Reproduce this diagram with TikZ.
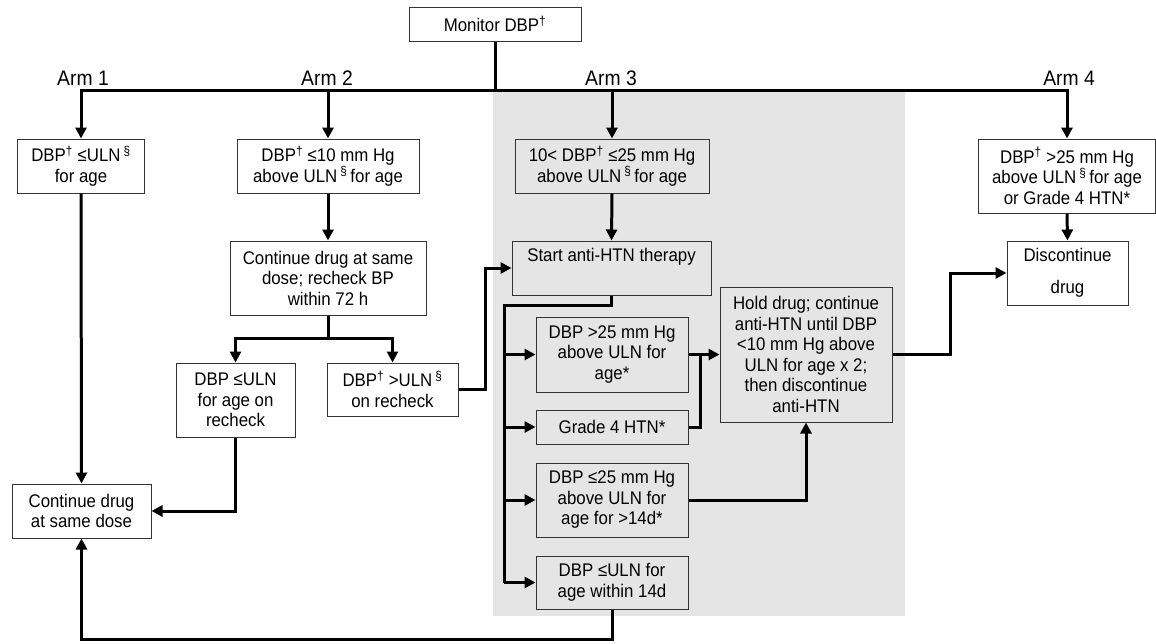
\documentclass[tikz,border=0pt]{standalone}
\usepackage{fontspec}
\setmainfont{Liberation Sans}[FakeStretch=0.92]
\usetikzlibrary{arrows.meta}
\newcommand\dg{\textsuperscript{†}}
\newcommand\sect{\textsuperscript{§}}
\tikzset{
  box/.style={draw=black!80, line width=1pt, fill=white, align=center, inner sep=0pt,
    font=\fontsize{18.3}{20.5}\selectfont},
  gbox/.style={box, fill=black!10},
  armlbl/.style={font=\fontsize{21}{23}\selectfont, inner sep=0pt},
  conn/.style={line width=3pt, draw=black},
  arr/.style={conn, -{Triangle[length=11pt,width=11pt]}},
}
\begin{document}
\begin{tikzpicture}[x=1pt,y=-1pt]
\useasboundingbox (0,0) rectangle (1156,643);
% shaded zone for Arm 3
\node[fill=black!10, inner sep=0pt, minimum width=412pt, minimum height=525pt] (zone) at (699,353.5) {};

% top
\node[box, minimum width=172pt, minimum height=34pt] (mon) at (495,24) {Monitor DBP\dg};
\coordinate (J) at (495,90);

\node[armlbl] (l1) at (83,78) {Arm 1};
\node[armlbl] (l2) at (327,78) {Arm 2};
\node[armlbl] (l3) at (611,78) {Arm 3};
\node[armlbl] (l4) at (1069,78) {Arm 4};

% arm condition boxes
\node[box, minimum width=127pt, minimum height=54pt] (a1) at (81,166) {DBP\dg{} ≤ULN\,\sect\\for age};
\node[box, minimum width=182pt, minimum height=54pt] (a2) at (328,166) {DBP\dg{} ≤10 mm Hg\\above ULN\,\sect\,for age};
\node[gbox, minimum width=194pt, minimum height=54pt] (a3) at (612,166) {10< DBP\dg{} ≤25 mm Hg\\above ULN\,\sect\,for age};
\node[box, minimum width=177pt, minimum height=74pt] (a4) at (1067,176) {DBP\dg{} >25 mm Hg\\above ULN\,\sect\,for age\\or Grade 4 HTN*};

% arm 2
\node[box, minimum width=196pt, minimum height=74pt] (cont) at (328,278) {Continue drug at same\\dose; recheck BP\\within 72 h};
\node[box, minimum width=119pt, minimum height=74pt] (rl) at (235.5,400) {DBP ≤ULN\\for age on\\recheck};
\node[box, minimum width=131pt, minimum height=53pt] (rr) at (392.5,389.5) {DBP\dg{} >ULN\,\sect\\on recheck};
\node[box, minimum width=139pt, minimum height=54pt] (same) at (81.5,511) {Continue drug\\at same dose};

% arm 3
\node[gbox, minimum width=199pt, minimum height=54pt] (start) at (611.5,268) {Start anti-HTN therapy\\\strut};
\node[gbox, minimum width=152pt, minimum height=75pt] (b1) at (612,354.5) {DBP >25 mm Hg\\above ULN for\\age*};
\node[gbox, minimum width=152pt, minimum height=34pt] (b2) at (612,427) {Grade 4 HTN*};
\node[gbox, minimum width=152pt, minimum height=74pt] (b3) at (612,500) {DBP ≤25 mm Hg\\above ULN for\\age for >14d*};
\node[gbox, minimum width=152pt, minimum height=53pt] (b4) at (612,582.5) {DBP ≤ULN for\\age within 14d};
\node[gbox, minimum width=172pt, minimum height=135pt] (hold) at (806,354.5) {Hold drug; continue\\anti-HTN until DBP\\<10 mm Hg above\\ULN for age x 2;\\then discontinue\\anti-HTN};

% arm 4
\node[box, minimum width=121pt, minimum height=64pt] (disc) at (1067.5,273) {Discontinue\\[11pt]drug};

% connectors: top tree
\draw[conn] (mon.south) -- (J);
\draw[arr] (J) -| (a1.north);
\draw[arr] (J) -| (a2.north);
\draw[arr] (J) -| (a3.north);
\draw[arr] (J) -| (a4.north);

% arm 1
\draw[arr] (a1.south) -- (same.north);

% arm 2
\coordinate (K) at (328,338);
\draw[arr] (a2.south) -- (cont.north);
\draw[conn] (cont.south) -- (K);
\draw[arr] (K) -| (rl.north);
\draw[arr] (K) -| (rr.north);
\draw[arr] (rl.south) |- (same.east);
\coordinate (R) at (485,389.5);
\draw[arr] (rr.east) -- (R) |- (start.west);

% arm 3
\draw[arr] (a3.south) -- (start.north);
\coordinate (T) at (504,305);
\draw[conn] (start.south) |- (T) -- (T |- b4.west);
\draw[arr] (T |- b1.west) -- (b1.west);
\draw[arr] (T |- b2.west) -- (b2.west);
\draw[arr] (T |- b3.west) -- (b3.west);
\draw[arr] (T |- b4.west) -- (b4.west);
\draw[arr] (b1.east) -- (hold.west);
\coordinate (M) at (700,354.5);
\draw[conn] (b2.east) -| (M);
\draw[arr] (b3.east) -| (hold.south);
\coordinate (H) at (950,354.5);
\draw[arr] (hold.east) -- (H) |- (disc.west);
\coordinate (B) at (612,639);
\draw[arr] (b4.south) -- (B) -| (same.south);

% arm 4
\draw[arr] (a4.south) -- (disc.north);
\end{tikzpicture}
\end{document}
